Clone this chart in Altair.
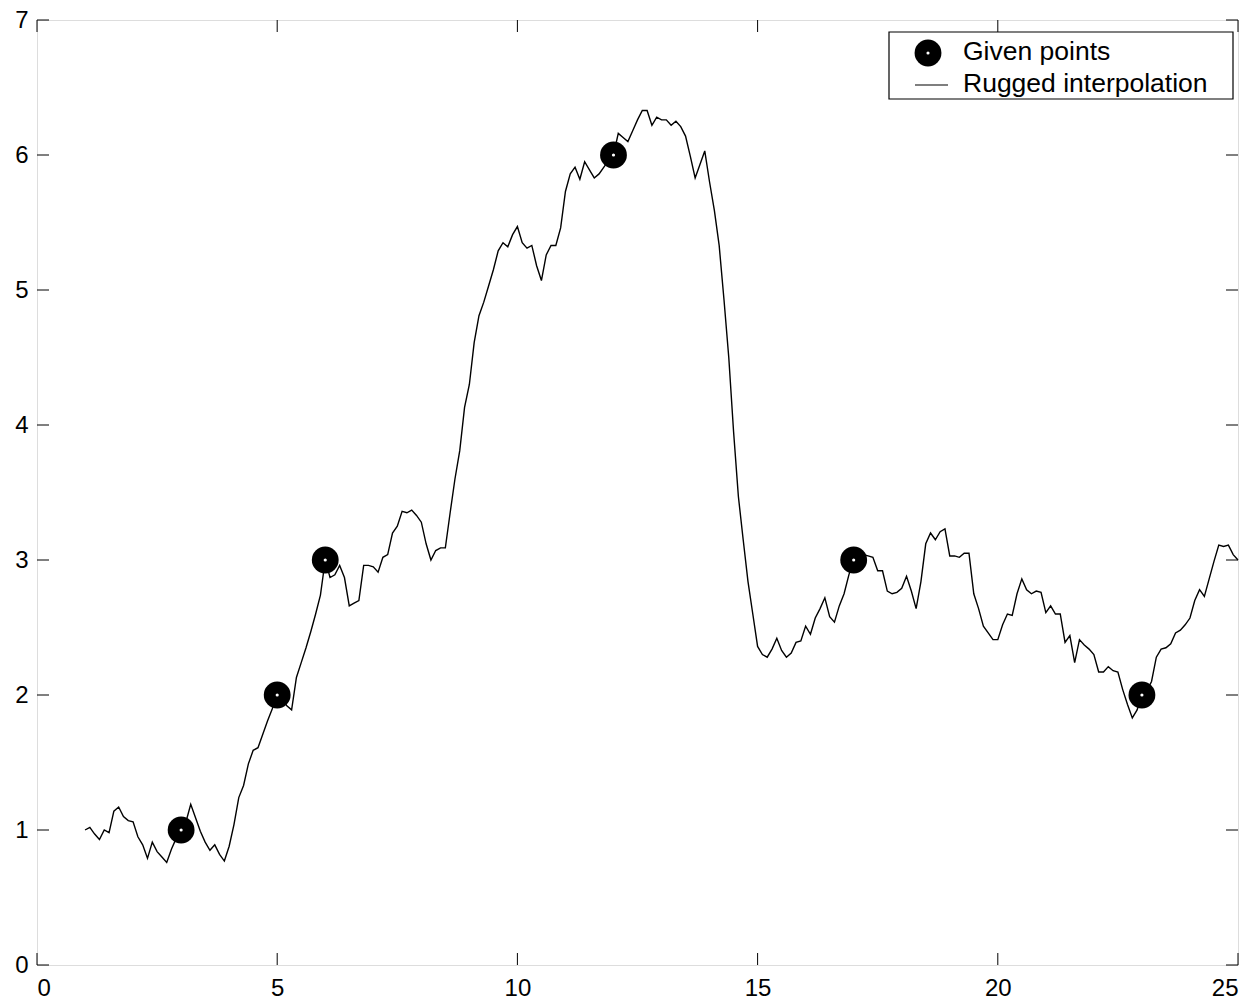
import altair as alt
import pandas as pd

# ---- data ----
X_TICKS = [0, 5, 10, 15, 20, 25]
Y_TICKS = [0, 1, 2, 3, 4, 5, 6, 7]

given_x = [3, 5, 6, 12, 17, 23]
given_y = [1, 2, 3, 6, 3, 2]

# rugged curve, sampled every 0.1 from x = 1.0 to x = 25.0
rugged_y = [
    1.00, 1.02, 0.97, 0.93, 1.00, 0.98, 1.14, 1.17, 1.10, 1.07,   # 1.0 - 1.9
    1.06, 0.95, 0.89, 0.79, 0.91, 0.84, 0.80, 0.76, 0.86, 0.94,   # 2.0 - 2.9
    1.00, 1.06, 1.19, 1.09, 0.99, 0.91, 0.85, 0.89, 0.82, 0.77,   # 3.0 - 3.9
    0.88, 1.04, 1.24, 1.33, 1.49, 1.59, 1.61, 1.71, 1.81, 1.90,   # 4.0 - 4.9
    2.00, 1.97, 1.92, 1.89, 2.13, 2.24, 2.35, 2.47, 2.60, 2.74,   # 5.0 - 5.9
    3.00, 2.87, 2.89, 2.96, 2.87, 2.66, 2.68, 2.70, 2.96, 2.96,   # 6.0 - 6.9
    2.95, 2.91, 3.02, 3.04, 3.20, 3.25, 3.36, 3.35, 3.37, 3.33,   # 7.0 - 7.9
    3.28, 3.12, 3.00, 3.07, 3.09, 3.09, 3.35, 3.60, 3.81, 4.13,   # 8.0 - 8.9
    4.30, 4.61, 4.81, 4.91, 5.03, 5.15, 5.29, 5.35, 5.32, 5.41,   # 9.0 - 9.9
    5.47, 5.35, 5.31, 5.33, 5.18, 5.07, 5.26, 5.33, 5.33, 5.46,   # 10.0 - 10.9
    5.73, 5.86, 5.91, 5.82, 5.95, 5.89, 5.83, 5.86, 5.91, 5.96,   # 11.0 - 11.9
    6.00, 6.16, 6.13, 6.10, 6.18, 6.26, 6.33, 6.33, 6.22, 6.28,   # 12.0 - 12.9
    6.26, 6.26, 6.22, 6.25, 6.21, 6.14, 5.99, 5.83, 5.93, 6.03,   # 13.0 - 13.9
    5.80, 5.59, 5.33, 4.93, 4.50, 3.95, 3.47, 3.15, 2.84, 2.60,   # 14.0 - 14.9
    2.36, 2.30, 2.28, 2.34, 2.42, 2.33, 2.28, 2.31, 2.39, 2.40,   # 15.0 - 15.9
    2.51, 2.45, 2.57, 2.64, 2.72, 2.58, 2.54, 2.66, 2.75, 2.89,   # 16.0 - 16.9
    3.00, 3.03, 3.04, 3.03, 3.02, 2.92, 2.92, 2.77, 2.75, 2.76,   # 17.0 - 17.9
    2.79, 2.88, 2.77, 2.64, 2.84, 3.12, 3.20, 3.15, 3.21, 3.23,   # 18.0 - 18.9
    3.03, 3.03, 3.02, 3.05, 3.05, 2.75, 2.64, 2.51, 2.46, 2.41,   # 19.0 - 19.9
    2.41, 2.52, 2.60, 2.59, 2.75, 2.86, 2.78, 2.75, 2.77, 2.76,   # 20.0 - 20.9
    2.61, 2.66, 2.60, 2.60, 2.39, 2.44, 2.24, 2.41, 2.37, 2.34,   # 21.0 - 21.9
    2.30, 2.17, 2.17, 2.21, 2.18, 2.17, 2.04, 1.93, 1.83, 1.89,   # 22.0 - 22.9
    2.00, 2.03, 2.10, 2.28, 2.34, 2.35, 2.38, 2.46, 2.48, 2.52,   # 23.0 - 23.9
    2.57, 2.70, 2.78, 2.73, 2.86, 2.99, 3.11, 3.10, 3.11, 3.04,   # 24.0 - 24.9
    3.00,                                                         # 25.0
]
rugged_x = [round(1.0 + i / 10.0, 1) for i in range(len(rugged_y))]

legend_labels = ["Given points", "Rugged interpolation"]

# ---- layout ----
W, H = 1201, 945
TICK = 12
FONT = "Liberation Sans"

line_df = pd.DataFrame({"x": rugged_x, "y": rugged_y})
pts_df = pd.DataFrame({"x": given_x, "y": given_y})
xt_df = pd.DataFrame({"v": X_TICKS})
yt_df = pd.DataFrame({"v": Y_TICKS})
leg_df = pd.DataFrame({"label": legend_labels})

xs = alt.Scale(domain=[0, 25], nice=False, zero=False)
ys = alt.Scale(domain=[0, 7], nice=False, zero=False)

x_axis = alt.Axis(values=X_TICKS, ticks=False, grid=False, domain=False,
                  labelFontSize=24, labelPadding=11, title=None, labelFont=FONT,
                  labelColor="black", format="d")
y_axis = alt.Axis(values=Y_TICKS, ticks=False, grid=False, domain=False,
                  labelFontSize=24, labelPadding=9, title=None, labelFont=FONT,
                  labelColor="black", format="d")

line = alt.Chart(line_df).mark_line(color="black", strokeWidth=1.4).encode(
    x=alt.X("x:Q", scale=xs, axis=x_axis),
    y=alt.Y("y:Q", scale=ys, axis=y_axis),
)

points = alt.Chart(pts_df).mark_point(shape="circle", filled=True, color="black",
                                       size=720, opacity=1).encode(
    x=alt.X("x:Q", scale=xs), y=alt.Y("y:Q", scale=ys))
dots = alt.Chart(pts_df).mark_point(shape="circle", filled=True, color="white",
                                     size=10, opacity=1).encode(
    x=alt.X("x:Q", scale=xs), y=alt.Y("y:Q", scale=ys))

xt_bottom = alt.Chart(xt_df).mark_rule(color="black", strokeWidth=1).encode(
    x=alt.X("v:Q", scale=xs), y=alt.value(H), y2=alt.value(H - TICK))
xt_top = alt.Chart(xt_df).mark_rule(color="black", strokeWidth=1).encode(
    x=alt.X("v:Q", scale=xs), y=alt.value(0), y2=alt.value(TICK))
yt_left = alt.Chart(yt_df).mark_rule(color="black", strokeWidth=1).encode(
    y=alt.Y("v:Q", scale=ys), x=alt.value(0), x2=alt.value(TICK))
yt_right = alt.Chart(yt_df).mark_rule(color="black", strokeWidth=1).encode(
    y=alt.Y("v:Q", scale=ys), x=alt.value(W), x2=alt.value(W - TICK))

# ---- legend box (MATLAB style) ----
leg_box = alt.Chart(leg_df.head(1)).mark_rect(fill="white", stroke="black",
                                               strokeWidth=1.2).encode(
    x=alt.value(852), x2=alt.value(1196), y=alt.value(12), y2=alt.value(79))
leg_marker = alt.Chart(leg_df.head(1)).mark_point(shape="circle", filled=True,
                                                   color="black", size=720, opacity=1).encode(
    x=alt.value(891), y=alt.value(33))
leg_dot = alt.Chart(leg_df.head(1)).mark_point(shape="circle", filled=True,
                                                color="white", size=10, opacity=1).encode(
    x=alt.value(891), y=alt.value(33))
leg_line = alt.Chart(leg_df.head(1)).mark_rule(color="black", strokeWidth=1.2).encode(
    x=alt.value(878), x2=alt.value(911), y=alt.value(65))
leg_text1 = alt.Chart(leg_df.head(1)).mark_text(align="left", baseline="middle",
                                                 font=FONT, fontSize=26.5, color="black").encode(
    x=alt.value(926), y=alt.value(32), text="label:N")
leg_text2 = alt.Chart(leg_df.tail(1)).mark_text(align="left", baseline="middle",
                                                 font=FONT, fontSize=26.5, color="black").encode(
    x=alt.value(926), y=alt.value(64), text="label:N")

chart = alt.layer(
    line, points, dots, xt_bottom, xt_top, yt_left, yt_right,
    leg_box, leg_marker, leg_dot, leg_line, leg_text1, leg_text2,
).properties(
    width=W, height=H,
    autosize=alt.AutoSizeParams(type="none"),
    padding={"left": 29, "top": 12, "right": 12, "bottom": 41},
).configure_view(
    stroke="black", strokeWidth=1.2,
).configure(
    background="white",
)

chart.save("out.html", embed_options={"renderer": "svg", "actions": False})
